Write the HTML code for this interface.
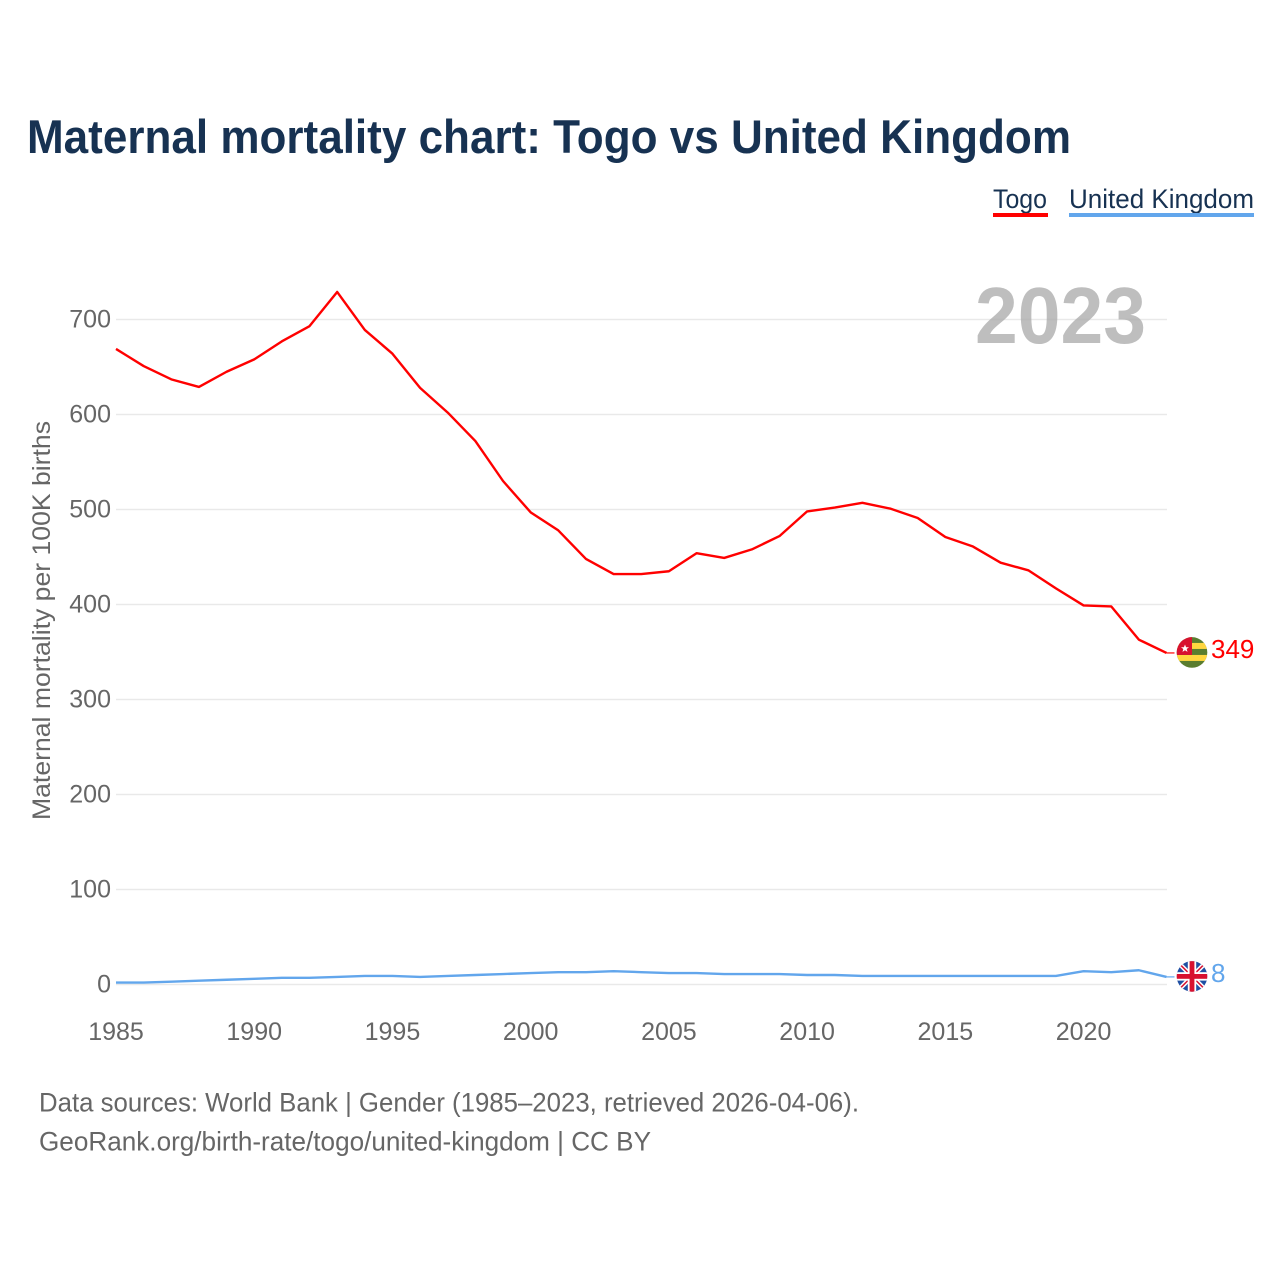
<!DOCTYPE html>
<html lang="en">
<head>
<meta charset="utf-8">
<title>Maternal mortality chart: Togo vs United Kingdom</title>
<style>
html,body{margin:0;padding:0;background:#fff;}
body{width:1280px;height:1280px;overflow:hidden;}
svg{display:block;font-family:"Liberation Sans",sans-serif;}
</style>
</head>
<body>
<svg id="chart" width="1280" height="1280" viewBox="0 0 1280 1280" xmlns="http://www.w3.org/2000/svg">
  <defs>
    <clipPath id="flag-clip"><circle cx="0" cy="0" r="15.3"></circle></clipPath>
  </defs>
  <rect x="0" y="0" width="1280" height="1280" fill="#ffffff"></rect>
  <text x="27" y="153" font-size="47" font-weight="700" fill="#173252" textLength="1044" lengthAdjust="spacingAndGlyphs">Maternal mortality chart: Togo vs United Kingdom</text>

  <g>
    <g>
      <text x="993" y="208" font-size="27" fill="#173252" textLength="54" lengthAdjust="spacingAndGlyphs">Togo</text>
      <rect x="993" y="213" width="55" height="4" fill="#ff0000"></rect>
    </g>
    <g>
      <text x="1069" y="208" font-size="27" fill="#173252" textLength="185" lengthAdjust="spacingAndGlyphs">United Kingdom</text>
      <rect x="1069" y="213" width="185" height="4" fill="#62a6ec"></rect>
    </g>
  </g>

  <g id="grid"></g>
  <g id="y-ticks"></g>
  <g id="x-ticks"></g>

  <text transform="translate(50,820) rotate(-90)" x="0" y="0" font-size="25" fill="#666666" textLength="399" lengthAdjust="spacingAndGlyphs">Maternal mortality per 100K births</text>

  <text x="975" y="343" font-size="80" font-weight="700" fill="#a8a8a8" fill-opacity="0.75" textLength="171" lengthAdjust="spacingAndGlyphs">2023</text>

  <g id="series"></g>
  <g id="end-markers"></g>

  <text x="39" y="1111.5" font-size="27" fill="#666666" textLength="820" lengthAdjust="spacingAndGlyphs">Data sources: World Bank | Gender (1985–2023, retrieved 2026-04-06).</text>
  <text x="39" y="1150.5" font-size="27" fill="#666666" textLength="612" lengthAdjust="spacingAndGlyphs">GeoRank.org/birth-rate/togo/united-kingdom | CC BY</text>
</svg>

<script>
const years = [1985,1986,1987,1988,1989,1990,1991,1992,1993,1994,1995,1996,1997,1998,1999,2000,2001,2002,2003,2004,2005,2006,2007,2008,2009,2010,2011,2012,2013,2014,2015,2016,2017,2018,2019,2020,2021,2022,2023];
const togoValues = [669,651,637,629,645,658,677,693,729,689,664,628,602,572,530,497,478,448,432,432,435,454,449,458,472,498,502,507,501,491,471,461,444,436,417,399,398,363,349];
const ukValues = [2,2,3,4,5,6,7,7,8,9,9,8,9,10,11,12,13,13,14,13,12,12,11,11,11,10,10,9,9,9,9,9,9,9,9,14,13,15,8];
const yTickLabels = [0,100,200,300,400,500,600,700];
const xTickLabels = [1985,1990,1995,2000,2005,2010,2015,2020];

const NS = 'http://www.w3.org/2000/svg';
function xScale(year){ return 116 + (year - 1985) * (1166.5 - 116) / (2023 - 1985); }
function yScale(value){ return 984.5 - value * 0.95; }
function make(tag, attrs, parent){
  const el = document.createElementNS(NS, tag);
  for (const k in attrs) el.setAttribute(k, attrs[k]);
  parent.appendChild(el);
  return el;
}

const grid = document.getElementById('grid');
const yTicks = document.getElementById('y-ticks');
yTickLabels.forEach(function(v){
  const line = make('line', {x1:116, x2:1167, y1:yScale(v), y2:yScale(v), stroke:'#e9e9e9', 'stroke-width':1.5}, grid);
  
  
  const label = make('text', {x:111, y:yScale(v) + 8, 'text-anchor':'end', 'font-size':25, fill:'#666666'}, yTicks);
  label.textContent = v;
  
  
});

const xTicks = document.getElementById('x-ticks');
xTickLabels.forEach(function(y){
  const label = make('text', {x:xScale(y), y:1040, 'text-anchor':'middle', 'font-size':25, fill:'#666666'}, xTicks);
  label.textContent = y;
  
  
});

function pointsFor(values){
  return values.map(function(v, i){ return xScale(years[i]).toFixed(2) + ',' + yScale(v).toFixed(2); }).join(' ');
}

const series = document.getElementById('series');
const ukLine = make('polyline', {points:pointsFor(ukValues), fill:'none', stroke:'#62a6ec', 'stroke-width':2.4, 'stroke-linejoin':'round'}, series);


const togoLine = make('polyline', {points:pointsFor(togoValues), fill:'none', stroke:'#ff0000', 'stroke-width':2.4, 'stroke-linejoin':'round'}, series);



const markers = document.getElementById('end-markers');

function endMarker(values, color, drawFlag, flagName, labelName, connectorName){
  const last = values[values.length - 1];
  const y = yScale(last);
  const x = xScale(years[years.length - 1]);
  const conn = make('line', {x1:x, x2:x + 8, y1:y, y2:y, stroke:color, 'stroke-width':1.2}, markers);
  
  
  const flag = make('g', {transform:'translate(1192,' + (y - 0.5) + ')'}, markers);
  
  
  const inner = make('g', {'clip-path':'url(#flag-clip)'}, flag);
  drawFlag(inner);
  const label = make('text', {x:1211, y:y + 5, 'font-size':26, fill:color}, markers);
  label.textContent = last;
  
  
}

function drawTogo(g){
  make('rect', {x:-16, y:-16, width:32, height:32, fill:'#5a7d2f'}, g);
  make('rect', {x:-16, y:-9.5, width:32, height:6, fill:'#ffd63f'}, g);
  make('rect', {x:-16, y:2.5, width:32, height:6, fill:'#ffd63f'}, g);
  make('rect', {x:-16, y:-16, width:16, height:18.5, fill:'#d8112f'}, g);
  make('polygon', {points:'-7,-8 -5.9,-5.2 -3,-5.2 -5.3,-3.4 -4.5,-0.6 -7,-2.2 -9.5,-0.6 -8.7,-3.4 -11,-5.2 -8.1,-5.2', fill:'#ffffff'}, g);
}

function drawUK(g){
  make('rect', {x:-16, y:-16, width:32, height:32, fill:'#1f4fa3'}, g);
  make('line', {x1:-16, y1:-16, x2:16, y2:16, stroke:'#ffffff', 'stroke-width':4.5}, g);
  make('line', {x1:-16, y1:16, x2:16, y2:-16, stroke:'#ffffff', 'stroke-width':4.5}, g);
  make('line', {x1:-16, y1:-16, x2:16, y2:16, stroke:'#d8112f', 'stroke-width':1.5}, g);
  make('line', {x1:-16, y1:16, x2:16, y2:-16, stroke:'#d8112f', 'stroke-width':1.5}, g);
  make('rect', {x:-16, y:-4.2, width:32, height:8.4, fill:'#ffffff'}, g);
  make('rect', {x:-4.2, y:-16, width:8.4, height:32, fill:'#ffffff'}, g);
  make('rect', {x:-16, y:-2.4, width:32, height:4.8, fill:'#d8112f'}, g);
  make('rect', {x:-2.4, y:-16, width:4.8, height:32, fill:'#d8112f'}, g);
}

endMarker(togoValues, '#ff0000', drawTogo, 'flag-togo', 'end-value-togo', 'connector-togo');
endMarker(ukValues, '#62a6ec', drawUK, 'flag-united-kingdom', 'end-value-united-kingdom', 'connector-united-kingdom');
</script>
</body>
</html>
